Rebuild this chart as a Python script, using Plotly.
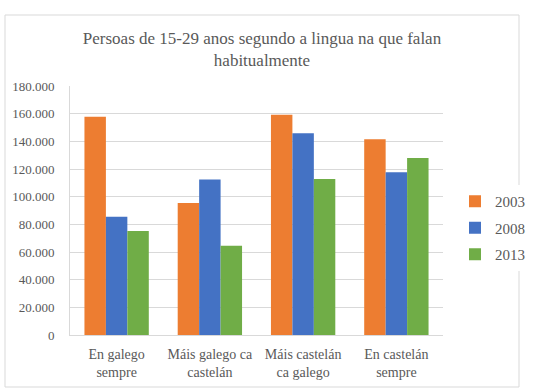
import plotly.graph_objects as go

categories = ["En galego<br>sempre", "Máis galego ca<br>castelán", "Máis castelán<br>ca galego", "En castelán<br>sempre"]
years = ["2003", "2008", "2013"]
values_2003 = [157800, 95400, 159200, 141500]
values_2008 = [85500, 112500, 145800, 117600]
values_2013 = [75200, 64500, 112800, 128000]
series = [values_2003, values_2008, values_2013]
colors = ["#ED7D31", "#4472C4", "#70AD47"]

FONT = "'Liberation Serif', 'Times New Roman', serif"

fig = go.Figure()
for i, (name, vals) in enumerate(zip(years, series)):
    fig.add_trace(go.Bar(x=categories, y=vals, name=name, marker_color=colors[i],
                         marker_line_width=0, legendgroup=name))

fig.update_layout(
    width=540, height=389,
    margin=dict(l=70, r=97, t=86, b=54, autoexpand=False),
    paper_bgcolor="white", plot_bgcolor="white",
    separators=",.",
    font=dict(family=FONT, color="#595959", size=14),
    title=dict(text="Persoas de 15-29 anos segundo a lingua na que falan<br>habitualmente",
               x=262/540, xanchor="center", y=1-44/389, yanchor="top",
               font=dict(family=FONT, size=17, color="#595959")),
    barmode="group", bargap=0.31, bargroupgap=0,
    legend=dict(x=(455-70)/373, xanchor="left", y=(335-228)/249, yanchor="middle",
                font=dict(family=FONT, size=15, color="#595959"), tracegroupgap=4),
    showlegend=True,
)
fig.update_yaxes(range=[0, 180000], dtick=20000, tickformat=",d",
                 showgrid=True, gridcolor="#D9D9D9", gridwidth=1,
                 showline=True, linecolor="#D9D9D9", linewidth=1,
                 ticks="", ticklabelstandoff=12, automargin=False,
                 tickfont=dict(family=FONT, size=13, color="#595959"), zeroline=False)
fig.update_xaxes(showline=True, linecolor="#D9D9D9", linewidth=1, ticks="",
                 tickangle=0, automargin=False, ticklabelstandoff=6,
                 tickfont=dict(family=FONT, size=14, color="#595959"))
fig.add_shape(type="rect", xref="paper", yref="paper",
              x0=(5-70)/373, x1=(519-70)/373, y0=(335-387)/249, y1=(335-15)/249,
              line=dict(color="#D9D9D9", width=1), fillcolor="rgba(0,0,0,0)", layer="below")

fig.write_html("out.html")
